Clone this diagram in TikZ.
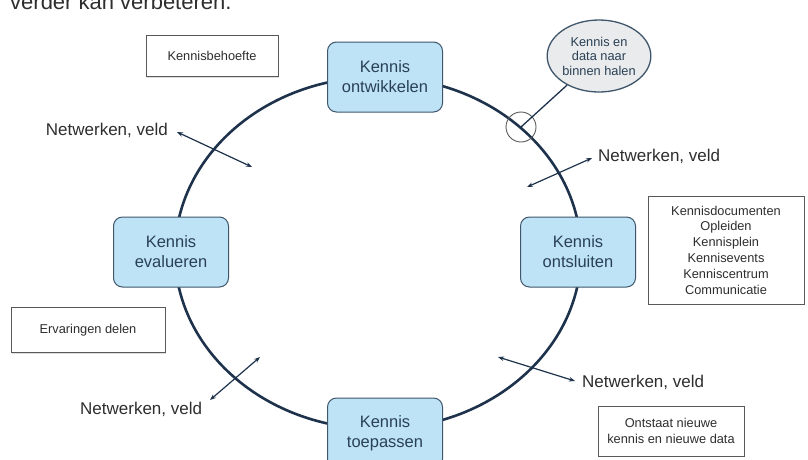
\documentclass[tikz,border=0pt]{standalone}
\usepackage{fontspec}
\setmainfont{Liberation Sans}
\usetikzlibrary{arrows.meta,shapes.geometric,shadows}
\definecolor{navy}{HTML}{1E334B}
\definecolor{nodefill}{HTML}{BEE3F6}
\definecolor{nodeborder}{HTML}{3F566B}
\definecolor{txt}{HTML}{2E2E2E}
\definecolor{ntxt}{HTML}{2A4055}
\definecolor{calloutfill}{HTML}{E9EBED}
\begin{document}
\begin{tikzpicture}[x=1pt,y=-1pt,
  phase/.style={draw=nodeborder, line width=1pt, fill=nodefill, rounded corners=9pt,
    minimum width=115pt, minimum height=70pt, align=center,
    font=\fontsize{16.5}{20}\selectfont, text=ntxt},
  note/.style={draw=gray!70!black, line width=0.8pt, fill=white, align=center,
    font=\fontsize{12.8}{15.8}\selectfont, text=txt,
    drop shadow={shadow xshift=1pt, shadow yshift=-1pt, fill=gray!50, opacity=0.5}},
  lbl/.style={font=\fontsize{17}{20}\selectfont, text=txt, inner sep=0pt},
  biarrow/.style={{Stealth[length=6pt,width=4.5pt]}-{Stealth[length=6pt,width=4.5pt]},
    line width=1.2pt, draw=navy}]
\useasboundingbox (0,0) rectangle (808,459);
\clip (0,0) rectangle (808,459);
\fill[white] (0,0) rectangle (808,459);
\node[anchor=base west, font=\fontsize{22}{26}\selectfont, text=txt, inner sep=0pt] (toptext) at (10,9) {verder kan verbeteren.};

% cycle
\draw[navy, line width=2.6pt] (378,253) ellipse [x radius=203pt, y radius=176pt];

% phases
\node[phase] (ontw) at (385,77) {Kennis\\ontwikkelen};
\node[phase] (eval) at (171,252) {Kennis\\evalueren};
\node[phase] (onts) at (578,252) {Kennis\\ontsluiten};
\node[phase] (toep) at (385,433) {Kennis\\toepassen};

% notes
\node[note, minimum width=132pt, minimum height=41pt] (behoefte) at (212,56) {Kennisbehoefte};
\node[note, minimum width=156pt, minimum height=108pt] (ontslbox) at (726,250)
  {Kennisdocumenten\\Opleiden\\Kennisplein\\Kennisevents\\Kenniscentrum\\Communicatie};
\node[note, minimum width=154pt, minimum height=45pt] (ervaring) at (88,330) {Ervaringen delen};
\node[note, minimum width=146pt, minimum height=50pt] (nieuw) at (671,431) {Ontstaat nieuwe\\kennis en nieuwe data};

% callout
\node[ellipse, draw=nodeborder, fill=calloutfill, line width=1.3pt, minimum width=93pt,
  minimum height=72pt, align=center, inner sep=0pt, text=ntxt,
  font=\fontsize{12.8}{14.5}\selectfont] (callout) at (599,56) {Kennis en\\data naar\\binnen halen};
\node[circle, draw=gray!70!black, line width=0.9pt, minimum size=30pt, inner sep=0pt] (spot) at (521,127) {};
\draw[navy, line width=1.3pt] (callout) -- (spot.center);

% network labels
\node[lbl, anchor=east] (n1) at (168,130) {Netwerken, veld};
\node[lbl, anchor=west] (n2) at (598,156) {Netwerken, veld};
\node[lbl, anchor=west] (n3) at (582,382) {Netwerken, veld};
\node[lbl, anchor=west] (n4) at (80,409) {Netwerken, veld};

\coordinate (a1s) at (177,132); \coordinate (a1e) at (252,167);
\coordinate (a2s) at (527,187); \coordinate (a2e) at (592,158);
\coordinate (a3s) at (498,357); \coordinate (a3e) at (575,381);
\coordinate (a4s) at (210,400); \coordinate (a4e) at (260,357);
\draw[biarrow] (a1s) -- (a1e);
\draw[biarrow] (a2s) -- (a2e);
\draw[biarrow] (a3s) -- (a3e);
\draw[biarrow] (a4s) -- (a4e);
\end{tikzpicture}
\end{document}
